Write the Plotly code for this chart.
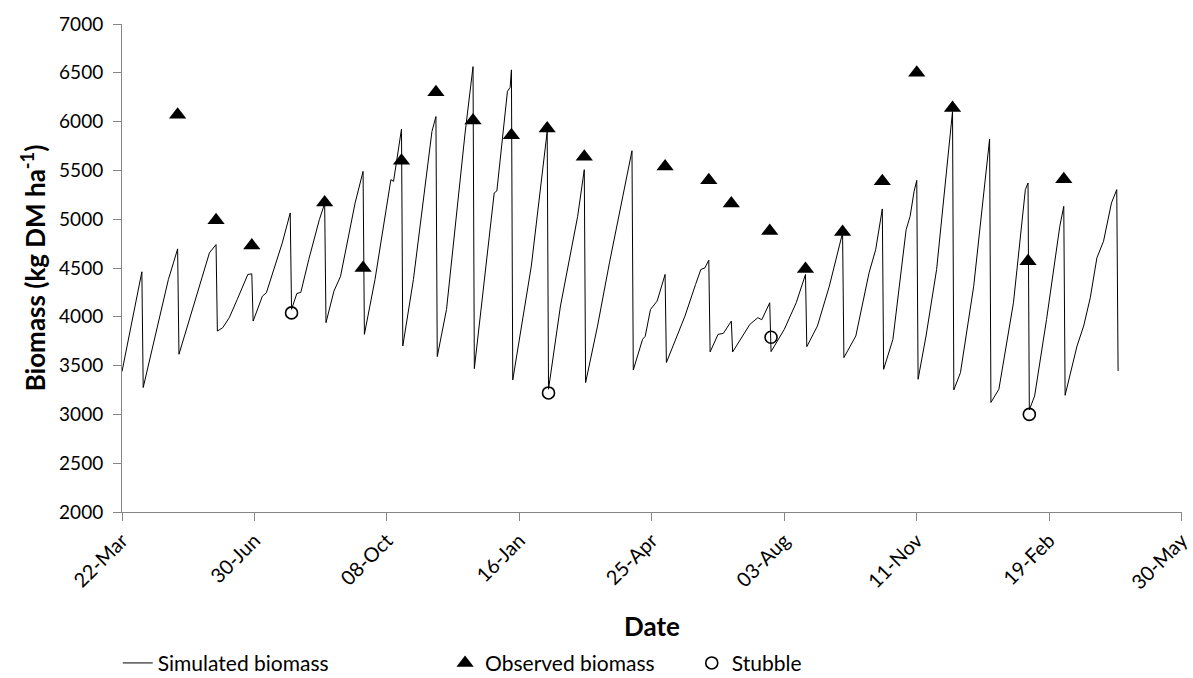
import pandas as pd
import plotly.graph_objects as go

# ---- data ----
START_DATE = "2011-03-22"   # day 0 of the series

# Simulated biomass: day since start, kg DM/ha
sim_day = [0, 11, 15, 16, 35, 39, 42, 43, 61, 66, 71, 72, 76, 81, 87, 95, 98, 99,
           106, 109, 121, 127, 128, 132, 135, 141, 149, 153, 154, 160, 165, 176, 182, 183,
           191, 199, 203, 205, 207, 211, 212, 220, 234, 236, 237, 238, 245, 259, 265, 266,
           281, 283, 291, 293, 294, 295, 302, 309, 321, 322, 331, 344, 349, 350, 359, 368,
           385, 386, 393, 395, 399, 404, 410, 411, 416, 425, 433, 437, 440, 443, 444, 450,
           454, 460, 461, 468, 474, 480, 483, 489, 490, 500, 509, 516, 517, 525, 534, 544,
           545, 554, 564, 569, 574, 575, 582, 592, 595, 598, 600, 601, 607, 615, 627, 628,
           633, 643, 655, 656, 662, 673, 679, 682, 684, 685, 689, 698, 708, 711, 712, 721,
           726, 731, 736, 741, 747, 751, 752]
sim_biomass = [3440, 4178, 4461, 3275, 4382, 4560, 4696, 3616, 4416, 4655, 4740, 3854, 3888, 3991, 4178, 4434, 4440, 3956,
               4212, 4246, 4757, 5064, 4076, 4239, 4250, 4587, 4996, 5160, 3940, 4263, 4416, 5167, 5490, 3820,
               4382, 5064, 5405, 5388, 5575, 5923, 3701, 4382, 5899, 5985, 6052, 3592, 4076, 5882, 6563, 3469,
               5269, 5290, 6310, 6350, 6530, 3353, 3922, 4519, 5900, 3258, 4110, 5030, 5507, 3326, 3905, 4553,
               5701, 3455, 3769, 3800, 4076, 4161, 4434, 3531, 3701, 4007, 4331, 4485, 4500, 4580, 3640, 3820,
               3830, 3956, 3640, 3786, 3922, 3991, 3970, 4144, 3643, 3871, 4144, 4434, 3694, 3905, 4314, 4860,
               3582, 3803, 4451, 4689, 5105, 3462, 3769, 4894, 5030, 5286, 5398, 3360, 3803, 4485, 6103, 3251,
               3428, 4314, 5821, 3122, 3258, 4144, 4962, 5303, 5371, 3046, 3189, 3973, 4928, 5132, 3196, 3701,
               3905, 4195, 4604, 4774, 5167, 5303, 3445]

# Observed (pre-grazing) biomass
obs_day = [42, 71, 98, 153, 182, 211, 237, 265, 294, 321, 349, 410, 443, 460, 489,
           516, 544, 574, 600, 627, 684, 711]
obs_biomass = [6070, 4990, 4730, 5170, 4500, 5600, 6300, 6010, 5860, 5930, 5640, 5540,
               5400, 5160, 4880, 4490, 4870, 5390, 6500, 6140, 4570, 5410]

# Stubble (post-grazing residual)
stub_day = [128, 322, 490, 685]
stub_biomass = [4040, 3220, 3790, 3000]

tick_dates = ["2011-03-22", "2011-06-30", "2011-10-08", "2012-01-16", "2012-04-25",
              "2012-08-03", "2012-11-11", "2013-02-19", "2013-05-30"]
y_ticks = [2000, 2500, 3000, 3500, 4000, 4500, 5000, 5500, 6000, 6500, 7000]

assert len(sim_day) == len(sim_biomass)
assert len(obs_day) == len(obs_biomass)

start = pd.Timestamp(START_DATE)
to_dates = lambda days: [start + pd.Timedelta(days=d) for d in days]

FONT = "Lato"
AXIS_GREY = "#868686"

fig = go.Figure()
fig.add_trace(go.Scatter(
    x=to_dates(sim_day), y=sim_biomass, mode="lines", name="Simulated biomass",
    line=dict(color="#000000", width=1), legend="legend"))
fig.add_trace(go.Scatter(
    x=to_dates(obs_day), y=obs_biomass, mode="markers", name="Observed biomass",
    marker=dict(symbol="triangle-up", size=15, color="#000000"), legend="legend2"))
fig.add_trace(go.Scatter(
    x=to_dates(stub_day), y=stub_biomass, mode="markers", name="Stubble",
    marker=dict(symbol="circle-open", size=12, color="#000000", line=dict(width=1.6)),
    legend="legend3"))

legend_common = dict(orientation="h", yanchor="middle", y=-0.31, xanchor="left",
                     bgcolor="rgba(0,0,0,0)", font=dict(family=FONT, size=21, color="#000"),
                     itemwidth=30)

x_end = (pd.Timestamp(tick_dates[-1]) + pd.Timedelta(hours=6))

fig.update_layout(
    width=1193, height=678,
    margin=dict(l=122, r=11, t=24, b=166, autoexpand=False),
    paper_bgcolor="white", plot_bgcolor="white",
    font=dict(family=FONT, size=20, color="#000000"),
    legend=dict(x=-0.004, **legend_common),
    legend2=dict(x=0.3048, **legend_common),
    legend3=dict(x=0.5375, **legend_common),
    xaxis=dict(
        type="date", range=[tick_dates[0], x_end],
        tickvals=tick_dates, tickformat="%d-%b", tickangle=-45,
        ticks="outside", ticklen=8, tickcolor=AXIS_GREY, tickwidth=1,
        showline=True, linecolor=AXIS_GREY, linewidth=1,
        showgrid=False, zeroline=False, ticklabeloverflow="allow",
        tickfont=dict(family=FONT, size=20, color="#000"),
        title=dict(text="<b>Date</b>", font=dict(family=FONT, size=26, color="#000"), standoff=25),
    ),
    yaxis=dict(
        range=[2000, 7000], tickvals=y_ticks,
        ticks="outside", ticklen=8, tickcolor=AXIS_GREY, tickwidth=1,
        showline=True, linecolor=AXIS_GREY, linewidth=1,
        showgrid=False, zeroline=False, ticklabelstandoff=6,
        tickfont=dict(family=FONT, size=19, color="#000"),
        title=dict(text="<b>Biomass (kg DM ha<sup>-1</sup>)</b>",
                   font=dict(family=FONT, size=26, color="#000"), standoff=6),
    ),
    showlegend=True,
)

fig.write_html("out.html")
